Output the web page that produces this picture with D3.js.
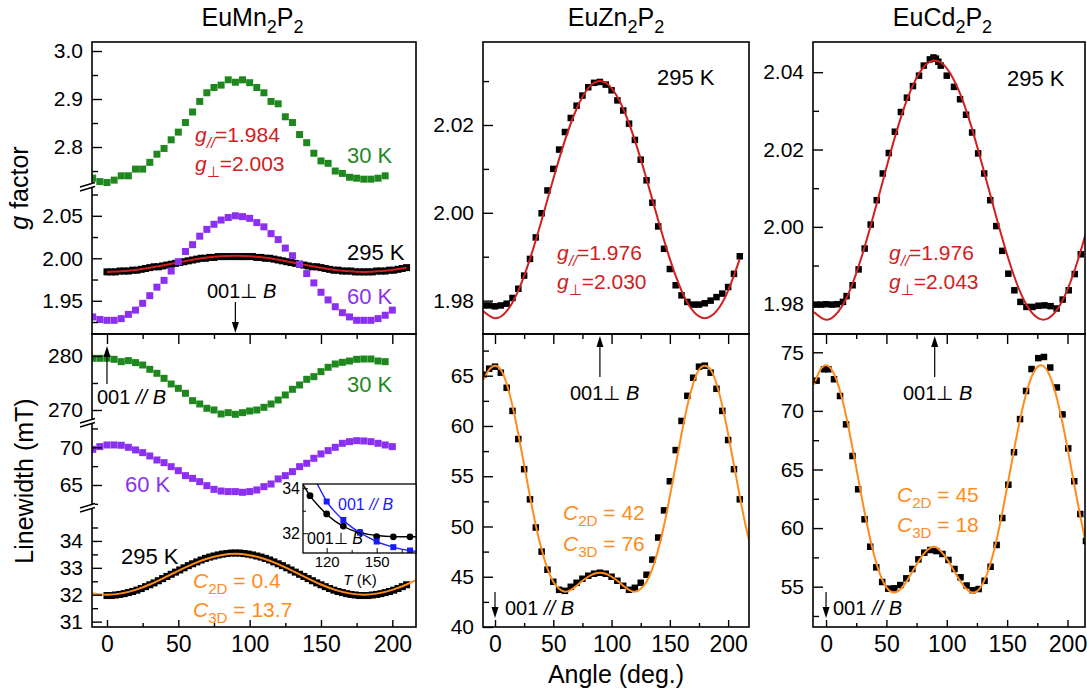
<!DOCTYPE html>
<html>
<head>
<meta charset="utf-8">
<title>EuT2P2 ESR angular dependence</title>
<script src="https://cdnjs.cloudflare.com/ajax/libs/d3/7.8.5/d3.min.js"></script>
<style>
  html, body { margin: 0; padding: 0; background: #fff; }
  svg { display: block; }
</style>
</head>
<body>
<svg id="chart" width="1087" height="696"></svg>
<script>
// ---------- values ----------
const xMajor = [0, 50, 100, 150, 200];
const xMinor = [25, 75, 125, 175];

const ang10to195 = [-10,-5,0,5,10,15,20,25,30,35,40,45,50,55,60,65,70,75,80,85,90,95,100,105,110,115,120,125,130,135,140,145,150,155,160,165,170,175,180,185,190,195];
const ang10to200 = [-10,-5,0,5,10,15,20,25,30,35,40,45,50,55,60,65,70,75,80,85,90,95,100,105,110,115,120,125,130,135,140,145,150,155,160,165,170,175,180,185,190,195,200];
const ang10to210 = [-10,-5,0,5,10,15,20,25,30,35,40,45,50,55,60,65,70,75,80,85,90,95,100,105,110,115,120,125,130,135,140,145,150,155,160,165,170,175,180,185,190,195,200,205,210];
const angBand = [0,3,6,9,12,15,18,21,24,27,30,33,36,39,42,45,48,51,54,57,60,63,66,69,72,75,78,81,84,87,90,93,96,99,102,105,108,111,114,117,120,123,126,129,132,135,138,141,144,147,150,153,156,159,162,165,168,171,174,177,180,183,186,189,192,195,198,201,204,207,210];
const fitAng10 = [-10,0,10,20,30,40,50,60,70,80,90,100,110,120,130,140,150,160,170,180,190,200,210,220];
const fitAng5 = [-10,-5,0,5,10,15,20,25,30,35,40,45,50,55,60,65,70,75,80,85,90,95,100,105,110,115,120,125,130,135,140,145,150,155,160,165,170,175,180,185,190,195,200,205,210,215,220];
const mnGFitAng = [0,10,20,30,40,50,60,70,80,90,100,110,120,130,140,150,160,170,180,190,200,210];

// EuMn2P2 g factor
const mnG30 = [2.735,2.728,2.726,2.731,2.740,2.740,2.754,2.754,2.768,2.785,2.797,2.815,2.831,2.851,2.873,2.895,2.913,2.924,2.929,2.940,2.935,2.940,2.934,2.924,2.913,2.895,2.890,2.863,2.851,2.826,2.809,2.787,2.771,2.766,2.750,2.745,2.737,2.735,2.733,2.733,2.735,2.740];
const mnG60 = [1.931,1.928,1.927,1.927,1.929,1.934,1.939,1.947,1.956,1.966,1.974,1.985,1.996,2.008,2.016,2.026,2.034,2.040,2.045,2.048,2.050,2.049,2.047,2.042,2.037,2.029,2.022,2.012,2.003,1.993,1.982,1.971,1.960,1.951,1.943,1.936,1.931,1.927,1.927,1.927,1.929,1.933,1.939];
const mnG295 = [1.984,1.984,1.984,1.985,1.985,1.985,1.986,1.986,1.987,1.988,1.989,1.990,1.990,1.991,1.992,1.993,1.994,1.995,1.996,1.997,1.998,1.999,2.000,2.000,2.001,2.001,2.002,2.002,2.002,2.002,2.002,
  2.002,2.002,2.002,2.002,2.001,2.001,2.000,2.000,1.999,1.998,1.997,1.996,1.995,1.994,1.993,1.992,1.991,1.990,1.990,1.989,1.988,1.987,1.986,1.986,1.985,1.985,1.985,1.984,1.984,1.984,
  1.984,1.984,1.985,1.985,1.985,1.986,1.986,1.987,1.988,1.989];
const mnGFit = [1.9840,1.9846,1.9862,1.9888,1.9919,1.9951,1.9983,2.0008,2.0024,2.0030,2.0024,2.0008,1.9983,1.9951,1.9919,1.9888,1.9862,1.9846,1.9840,1.9846,1.9862,1.9888];

// EuMn2P2 linewidth (mT)
const mnW30 = [279.57,279.57,279.57,279.38,278.95,279.14,278.77,278.33,277.53,276.79,275.86,274.81,274.01,273.09,271.73,271.11,270.31,270.0,269.26,269.51,269.20,269.51,269.81,270.0,270.49,271.11,271.85,272.78,273.83,274.63,275.68,276.17,277.10,277.90,278.52,278.83,279.07,279.38,279.44,279.44,279.07,278.95];
const mnW60 = [69.73,70.09,70.31,70.31,70.27,70.0,69.65,69.29,68.85,68.32,67.96,67.43,66.90,66.24,65.88,65.44,64.91,64.42,64.20,64.12,64.12,64.03,64.12,64.34,64.78,65.13,65.80,66.24,66.77,67.43,67.88,68.54,69.12,69.56,70.0,70.53,70.75,70.88,70.84,70.75,70.53,70.31,70.09];
const mnW295 = [31.97,31.97,31.99,32.01,32.04,32.08,32.12,32.17,32.23,32.30,32.37,32.44,32.52,32.60,32.68,32.76,32.84,32.92,33.00,33.08,33.15,33.22,33.29,33.35,33.40,33.44,33.48,33.51,33.53,33.55,33.55,
  33.55,33.53,33.51,33.48,33.44,33.40,33.35,33.29,33.22,33.15,33.08,33.00,32.92,32.84,32.76,32.68,32.60,32.52,32.44,32.37,32.30,32.23,32.17,32.12,32.08,32.04,32.01,31.99,31.97,31.97,
  31.97,31.99,32.01,32.04,32.08,32.12,32.17,32.23,32.30,32.37];
const mnWFit = [32.05,32.0,32.05,32.18,32.38,32.63,32.89,33.14,33.34,33.47,33.52,33.47,33.34,33.14,32.89,32.63,32.38,32.18,32.05,32.0,32.05,32.18,32.38,32.63];

// inset: linewidth vs T
const insetT = [110,120,130,140,150,160,170];
const insetPerp = [33.67,32.86,32.32,32.04,31.85,31.84,31.84];
const insetParT = [120,130,140,150,160,170];
const insetPar = [33.41,32.59,32.03,31.63,31.38,31.23];
const insetPerpFitT = [104,110,115,120,125,130,135,140,145,150,160,170,176];
const insetPerpFit = [34.4,33.67,33.22,32.84,32.54,32.31,32.14,32.03,31.95,31.9,31.85,31.84,31.84];
const insetParFitT = [110,112,115,120,125,130,135,140,145,150,155,160,165,170,176];
const insetParFit = [34.8,34.5,34.1,33.42,32.95,32.58,32.27,32.02,31.81,31.63,31.49,31.38,31.29,31.23,31.17];

// EuZn2P2
const znG = [1.9789,1.9789,1.9787,1.9789,1.9793,1.9806,1.9827,1.9857,1.9895,1.9944,1.9999,2.0051,2.0100,2.0144,2.0184,2.0216,2.0244,2.0267,2.0286,2.0296,2.0298,2.0292,2.0279,2.0256,2.0233,2.0203,2.0166,2.0121,2.0074,2.0023,1.9969,1.9918,1.9872,1.9835,1.9812,1.9797,1.9791,1.9791,1.9794,1.9800,1.9808,1.9816,1.9831,1.9861,1.9901];
const znGFit = [1.9776,1.976,1.9776,1.9823,1.9895,1.9983,2.0077,2.0165,2.0237,2.0284,2.030,2.0284,2.0237,2.0165,2.0077,1.9983,1.9895,1.9823,1.9776,1.976,1.9776,1.9823,1.9895];
const znW = [65.1,65.7,65.9,65.3,63.8,61.5,58.7,55.7,52.7,49.9,47.5,45.7,44.5,43.7,43.6,44.0,44.4,44.8,45.1,45.3,45.4,45.3,45.0,44.6,44.1,43.7,43.9,44.4,45.2,46.7,48.9,51.6,54.5,57.6,60.5,63.0,64.8,65.9,66.0,65.3,63.7,61.5,58.6,55.7,52.7];
const znWFit = [64.6,65.6,66.0,65.6,64.2,62.0,59.2,56.1,53.0,50.1,47.7,45.8,44.5,43.8,43.5,43.7,44.1,44.6,45.0,45.3,45.4,45.3,45.0,44.6,44.1,43.7,43.5,43.8,44.5,45.8,47.7,50.1,53.0,56.1,59.2,62.0,64.2,65.6,66.0,65.6,64.2,62.0,59.2,56.1,53.0,50.1,47.7];

// EuCd2P2
const cdGAng = [-8,-4,0,5,9,14,17,22,27,32,37,42,47,52,57,62,67,72,77,81,86,89,91,93,95,100,106,111,116,121,126,131,136,141,146,151,156,161,166,171,176,181,186,191,196,201,206,211];
const cdG = [1.9799,1.9799,1.9800,1.9799,1.9800,1.9806,1.9821,1.9849,1.9890,1.9944,2.0006,2.0069,2.0138,2.0191,2.0246,2.0297,2.0334,2.0364,2.0391,2.0417,2.0433,2.0438,2.0435,2.0427,2.0417,2.0391,2.0362,2.0330,2.0290,2.0244,2.0190,2.0138,2.0069,2.0002,1.9938,1.9879,1.9836,1.9806,1.9793,1.9793,1.9796,1.9797,1.9795,1.9789,1.9812,1.9836,1.9878,1.9929];
const cdGFit = [1.9780,1.976,1.9780,1.9838,1.9928,2.0037,2.0153,2.0263,2.0352,2.0410,2.043,2.0410,2.0352,2.0263,2.0153,2.0037,1.9928,1.9838,1.9780,1.976,1.9780,1.9838,1.9928,2.0037];
const cdWAng = [-7.8,-1.7,1.9,6.6,11.6,16.6,21.9,26.6,31.9,36.6,41.6,46.5,51.5,56.5,61.5,66.5,71.5,76.5,81.4,86.4,91.4,96.4,101.4,106.4,111.4,116.4,121.4,126.4,131.3,136.3,141.3,146,151,155.7,160.7,165.7,170.2,175.8,180.5,185.7,191.2,195.9,200.6,205.6,210.6,215.3];
const cdW = [72.58,73.55,73.55,72.70,71.27,68.85,66.15,63.31,60.75,58.41,56.65,55.40,54.83,54.86,55.14,55.71,56.51,57.33,57.90,58.13,58.04,57.79,57.28,56.51,55.8,55.1,54.7,54.8,55.5,56.7,58.56,60.86,63.7,66.47,69.3,71.7,73.57,74.5,74.6,73.7,72.0,69.7,66.8,64.0,61.2,58.9];
const cdWFit = [72.24,73.47,73.9,73.47,72.24,70.32,67.88,65.16,62.39,59.82,57.62,55.98,54.94,54.52,54.64,55.20,56.01,56.90,57.68,58.21,58.4,58.03,57.39,56.54,55.67,54.94,54.53,54.61,55.28,56.57,58.45,60.81,63.49,66.27,68.91,71.17,72.83,73.75,73.83,73.08,71.55,69.39,66.82,64.04,61.33,58.89,56.90];

// axis ticks
const mnG30Major = [2.8, 2.9, 3.0], mnG30Minor = [2.75, 2.85, 2.95];
const mnGMajor = [1.95, 2.00, 2.05], mnGMinor = [1.925, 1.975, 2.025, 2.075];
const mnW30Major = [270, 280], mnW30Minor = [275];
const mnW60Major = [65, 70], mnW60Minor = [62.5, 67.5, 72.5];
const mnW295Major = [31, 32, 33, 34], mnW295Minor = [31.5, 32.5, 33.5, 34.5];
const gZnMajor = [1.98, 2.00, 2.02], gZnMinor = [1.99, 2.01, 2.03];
const gCdMajor = [1.98, 2.00, 2.02, 2.04], gCdMinor = [1.99, 2.01, 2.03];
const wZnMajor = [40, 45, 50, 55, 60, 65], wZnMinor = [42.5, 47.5, 52.5, 57.5, 62.5, 67.5];
const wCdMajor = [55, 60, 65, 70, 75], wCdMinor = [52.5, 57.5, 62.5, 67.5, 72.5];
const insetTMajor = [120, 150], insetTMinor = [135, 165];
const insetWMajor = [32, 34], insetWMinor = [33];

const compounds = [["EuMn", "2", "P", "2"], ["EuZn", "2", "P", "2"], ["EuCd", "2", "P", "2"]];

// ---------- drawing ----------
const FONT = "'Liberation Sans', Arial, Helvetica, sans-serif";
const GREEN = "#1e881e", PURPLE = "#8b2ff0", RED = "#d02020", ORANGE = "#ff8c1a", BLUE = "#1a1aff";

const svg = d3.select("#chart").attr("font-family", FONT);
svg.append("rect").attr("width", 1087).attr("height", 696).attr("fill", "#fff");
const defs = svg.append("defs");

const yTop = 42, yMid = 334, yBot = 627;
const colX = [[92, 416], [483, 749], [813, 1085]];
const colDom = [[-10.5, 216.6], [-10.3, 217.9], [-10.8, 214.5]];
const xs = colX.map((r, i) => d3.scaleLinear().domain(colDom[i]).range(r));

const y = {
  mnG30: d3.scaleLinear().domain([2.7146, 3.0188]).range([188, yTop]),
  mnG: d3.scaleLinear().domain([1.9109, 2.0827]).range([yMid, 188]),
  mnW30: d3.scaleLinear().domain([267.22, 284.07]).range([425, yMid]),
  mnW60: d3.scaleLinear().domain([61.68, 72.96]).range([510, 425]),
  mnW295: d3.scaleLinear().domain([30.80, 35.15]).range([yBot, 510]),
  znG: d3.scaleLinear().domain([1.9724, 2.0389]).range([yMid, yTop]),
  znW: d3.scaleLinear().domain([40, 69.15]).range([yBot, yMid]),
  cdG: d3.scaleLinear().domain([1.9723, 2.0478]).range([yMid, yTop]),
  cdW: d3.scaleLinear().domain([51.56, 76.56]).range([yBot, yMid])
};

function clipGroup(id, x0, x1, y0, y1) {
  defs.append("clipPath").attr("id", id).append("rect")
    .attr("x", x0).attr("y", y0).attr("width", x1 - x0).attr("height", y1 - y0);
  return svg.append("g").attr("clip-path", `url(#${id})`);
}

function squares(g, sx, sy, a, v, color, size) {
  g.append("g").selectAll("rect").data(d3.zip(a, v)).join("rect")
    .attr("x", d => sx(d[0]) - size / 2)
    .attr("y", d => sy(d[1]) - size / 2)
    .attr("width", size).attr("height", size)
    .attr("fill", color);
}

function fitLine(g, sx, sy, a, v, color, w) {
  g.append("path").datum(d3.zip(a, v))
    .attr("fill", "none").attr("stroke", color).attr("stroke-width", w || 2)
    .attr("d", d3.line().x(d => sx(d[0])).y(d => sy(d[1])).curve(d3.curveNatural));
}

// --- EuMn2P2 top: g factor
const gMnTop = clipGroup("c0t", colX[0][0], colX[0][1], yTop, yMid);
squares(gMnTop, xs[0], y.mnG, angBand, mnG295, "#000", 7);
fitLine(gMnTop, xs[0], y.mnG, mnGFitAng, mnGFit, RED, 2);
squares(gMnTop, xs[0], y.mnG, ang10to200, mnG60, PURPLE, 7);
squares(gMnTop, xs[0], y.mnG30, ang10to195, mnG30, GREEN, 7);

// --- EuMn2P2 bottom: linewidth
const gMnBot = clipGroup("c0b", colX[0][0], colX[0][1], yMid, yBot);
squares(gMnBot, xs[0], y.mnW30, ang10to195, mnW30, GREEN, 7);
squares(gMnBot, xs[0], y.mnW60, ang10to200, mnW60, PURPLE, 7);
squares(gMnBot, xs[0], y.mnW295, angBand, mnW295, "#000", 7);
fitLine(gMnBot, xs[0], y.mnW295, fitAng10, mnWFit, ORANGE, 2);

// --- EuZn2P2
const gZnTop = clipGroup("c1t", colX[1][0], colX[1][1], yTop, yMid);
squares(gZnTop, xs[1], y.znG, ang10to210, znG, "#000", 6.5);
fitLine(gZnTop, xs[1], y.znG, fitAng10.slice(0, 23), znGFit, RED, 2);
const gZnBot = clipGroup("c1b", colX[1][0], colX[1][1], yMid, yBot);
squares(gZnBot, xs[1], y.znW, ang10to210, znW, "#000", 6.5);
fitLine(gZnBot, xs[1], y.znW, fitAng5, znWFit, ORANGE, 2);

// --- EuCd2P2
const gCdTop = clipGroup("c2t", colX[2][0], colX[2][1], yTop, yMid);
squares(gCdTop, xs[2], y.cdG, cdGAng, cdG, "#000", 6.5);
fitLine(gCdTop, xs[2], y.cdG, fitAng10, cdGFit, RED, 2);
const gCdBot = clipGroup("c2b", colX[2][0], colX[2][1], yMid, yBot);
squares(gCdBot, xs[2], y.cdW, cdWAng, cdW, "#000", 6.5);
fitLine(gCdBot, xs[2], y.cdW, fitAng5, cdWFit, ORANGE, 2);

// --- axes
function yAxis(x0, sc, major, minor, fmt, size) {
  const g = svg.append("g").attr("transform", `translate(${x0},0)`);
  g.append("g").call(d3.axisLeft(sc).tickValues(major).tickSize(-10).tickPadding(9).tickFormat(d3.format(fmt)))
    .attr("font-size", size || 21).attr("font-family", FONT)
    .call(a => a.select(".domain").remove());
  g.append("g").call(d3.axisLeft(sc).tickValues(minor).tickSize(-6).tickFormat(""))
    .call(a => a.select(".domain").remove());
  g.selectAll("line").attr("stroke-width", 1.4);
  g.selectAll("text").attr("fill", "#000");
}
yAxis(colX[0][0], y.mnG30, mnG30Major, mnG30Minor, ".1f");
yAxis(colX[0][0], y.mnG, mnGMajor, mnGMinor, ".2f");
yAxis(colX[0][0], y.mnW30, mnW30Major, mnW30Minor, "d");
yAxis(colX[0][0], y.mnW60, mnW60Major, mnW60Minor, "d");
yAxis(colX[0][0], y.mnW295, mnW295Major, mnW295Minor, "d");
yAxis(colX[1][0], y.znG, gZnMajor, gZnMinor, ".2f");
yAxis(colX[1][0], y.znW, wZnMajor, wZnMinor, "d");
yAxis(colX[2][0], y.cdG, gCdMajor, gCdMinor, ".2f");
yAxis(colX[2][0], y.cdW, wCdMajor, wCdMinor, "d");

xs.forEach(sx => {
  const b = svg.append("g").attr("transform", `translate(0,${yBot})`);
  b.append("g").call(d3.axisBottom(sx).tickValues(xMajor).tickSize(-7).tickPadding(9).tickFormat(d3.format("d")))
    .attr("font-size", 23).attr("font-family", FONT)
    .call(a => a.select(".domain").remove());
  b.append("g").call(d3.axisBottom(sx).tickValues(xMinor).tickSize(-4).tickFormat(""))
    .call(a => a.select(".domain").remove());
  const t = svg.append("g").attr("transform", `translate(0,${yMid})`);
  t.append("g").call(d3.axisTop(sx).tickValues(xMajor).tickSize(-10).tickFormat(""))
    .call(a => a.select(".domain").remove());
  t.append("g").call(d3.axisTop(sx).tickValues(xMinor).tickSize(-5).tickFormat(""))
    .call(a => a.select(".domain").remove());
  svg.selectAll(".tick line").attr("stroke-width", 1.4);
});

// --- frames
colX.forEach(([x0, x1]) => {
  [[yTop, yMid], [yMid, yBot]].forEach(([y0, y1]) => {
    svg.append("rect").attr("x", x0).attr("y", y0).attr("width", x1 - x0).attr("height", y1 - y0)
      .attr("fill", "none").attr("stroke", "#000").attr("stroke-width", 1.6);
  });
});

// axis breaks on the EuMn2P2 left axis
function axisBreak(yb) {
  const x0 = colX[0][0];
  svg.append("path")
    .attr("d", `M${x0 - 12},${yb + 1}L${x0 + 3},${yb - 3.5}L${x0 + 3},${yb + 0.5}L${x0 - 12},${yb + 5}Z`)
    .attr("fill", "#fff");
  [[1, -3.5], [5, 0.5]].forEach(([a, b]) => {
    svg.append("line").attr("x1", x0 - 12).attr("y1", yb + a).attr("x2", x0 + 3).attr("y2", yb + b)
      .attr("stroke", "#000").attr("stroke-width", 1.4);
  });
}
axisBreak(186);
axisBreak(422);
axisBreak(507);

// --- text helpers
function rich(x, yy, parts, size, color, anchor) {
  const t = svg.append("text").attr("x", x).attr("y", yy)
    .attr("font-size", size).attr("fill", color)
    .attr("text-anchor", anchor || "start").style("white-space", "pre");
  let cur = 0;
  parts.forEach(p => {
    const [str, st] = typeof p === "string" ? [p, ""] : p;
    const s = t.append("tspan").text(str);
    const off = st.includes("s") ? size * 0.28 : 0;
    if (off !== cur) { s.attr("dy", off - cur); cur = off; }
    if (st.includes("s")) s.attr("font-size", size * 0.72);
    if (st.includes("i")) s.attr("font-style", "italic");
  });
  return t;
}

function arrow(x, yFrom, yTo) {
  const dir = yTo > yFrom ? 1 : -1;
  svg.append("line").attr("x1", x).attr("x2", x).attr("y1", yFrom).attr("y2", yTo - dir * 6)
    .attr("stroke", "#000").attr("stroke-width", 1.2);
  svg.append("path").attr("d", `M${x - 3.5},${yTo - dir * 11}L${x + 3.5},${yTo - dir * 11}L${x},${yTo}Z`)
    .attr("fill", "#000");
}

// titles
[252.5, 616, 942.5].forEach((cx, i) => {
  const c = compounds[i];
  rich(cx, 26, [c[0], [c[1], "s"], c[2], [c[3], "s"]], 25, "#000", "middle");
});

// axis titles
rich(0, 0, [["g", "i"], " factor"], 25, "#000", "middle").attr("transform", "translate(28,188) rotate(-90)");
rich(0, 0, ["Linewidth (mT)"], 25, "#000", "middle").attr("transform", "translate(33,481) rotate(-90)");
rich(616, 683, ["Angle (deg.)"], 25, "#000", "middle");

const perpB = ["001\u22A5 ", ["B", "i"]];
const parB = ["001 ", ["//", "i"], " ", ["B", "i"]];

// EuMn2P2 annotations
rich(195, 142, [["g", "i"], ["//", "is"], "=1.984"], 21, RED);
rich(195, 171, [["g", "i"], ["\u22A5", "s"], "=2.003"], 21, RED);
rich(347, 163, ["30 K"], 22, GREEN);
rich(347, 260, ["295 K"], 22, "#000");
rich(347, 304, ["60 K"], 22, PURPLE);
rich(207, 298, perpB, 20, "#000");
arrow(xs[0](90), 302, 333);
arrow(xs[0](0), 384, 346);
rich(97, 404, parB, 20, "#000");
rich(347, 392, ["30 K"], 22, GREEN);
rich(125, 492, ["60 K"], 22, PURPLE);
rich(121, 564, ["295 K"], 22, "#000");
rich(193, 588, [["C", "i"], ["2D", "s"], " = 0.4"], 21, ORANGE);
rich(193, 617, [["C", "i"], ["3D", "s"], " = 13.7"], 21, ORANGE);

// EuZn2P2 annotations
rich(657, 85, ["295 K"], 22, "#000");
rich(557, 260, [["g", "i"], ["//", "is"], "=1.976"], 21, RED);
rich(557, 289, [["g", "i"], ["\u22A5", "s"], "=2.030"], 21, RED);
arrow(xs[1](90), 377, 336);
rich(570, 400, perpB, 20, "#000");
rich(563, 520, [["C", "i"], ["2D", "s"], " = 42"], 21, ORANGE);
rich(563, 551, [["C", "i"], ["3D", "s"], " = 76"], 21, ORANGE);
arrow(xs[1](0), 592, 618);
rich(505, 615, parB, 20, "#000");

// EuCd2P2 annotations
rich(1007, 86, ["295 K"], 22, "#000");
rich(889, 260, [["g", "i"], ["//", "is"], "=1.976"], 21, RED);
rich(889, 289, [["g", "i"], ["\u22A5", "s"], "=2.043"], 21, RED);
arrow(xs[2](90), 377, 336);
rich(903, 400, perpB, 20, "#000");
rich(897, 502, [["C", "i"], ["2D", "s"], " = 45"], 21, ORANGE);
rich(897, 532, [["C", "i"], ["3D", "s"], " = 18"], 21, ORANGE);
arrow(xs[2](0), 592, 618);
rich(833, 615, parB, 20, "#000");

// --- inset (linewidth vs temperature)
const inX = d3.scaleLinear().domain([105.8, 173.6]).range([303, 416]);
const inY = d3.scaleLinear().domain([31.12, 34.19]).range([553, 484]);
svg.append("rect").attr("x", 303).attr("y", 484).attr("width", 113).attr("height", 69).attr("fill", "#fff");
const gIn = clipGroup("cin", 303, 416, 484, 553);
gIn.append("path").datum(d3.zip(insetPerpFitT, insetPerpFit))
  .attr("fill", "none").attr("stroke", "#000").attr("stroke-width", 1.4)
  .attr("d", d3.line().x(d => inX(d[0])).y(d => inY(d[1])).curve(d3.curveNatural));
gIn.append("path").datum(d3.zip(insetParFitT, insetParFit))
  .attr("fill", "none").attr("stroke", BLUE).attr("stroke-width", 1.4)
  .attr("d", d3.line().x(d => inX(d[0])).y(d => inY(d[1])).curve(d3.curveNatural));
gIn.selectAll("circle").data(d3.zip(insetT, insetPerp)).join("circle")
  .attr("cx", d => inX(d[0])).attr("cy", d => inY(d[1])).attr("r", 3.4).attr("fill", "#000");
squares(gIn, inX, inY, insetParT, insetPar, BLUE, 6);

const inAxL = svg.append("g").attr("transform", "translate(303,0)");
inAxL.append("g").call(d3.axisLeft(inY).tickValues(insetWMajor).tickSize(-5).tickPadding(3).tickFormat(d3.format("d")))
  .attr("font-size", 16).attr("font-family", FONT).call(a => a.select(".domain").remove());
inAxL.append("g").call(d3.axisLeft(inY).tickValues(insetWMinor).tickSize(-3).tickFormat(""))
  .call(a => a.select(".domain").remove());
const inAxB = svg.append("g").attr("transform", "translate(0,553)");
inAxB.append("g").call(d3.axisBottom(inX).tickValues(insetTMajor).tickSize(-5).tickPadding(3).tickFormat(d3.format("d")))
  .attr("font-size", 15).attr("font-family", FONT).call(a => a.select(".domain").remove());
inAxB.append("g").call(d3.axisBottom(inX).tickValues(insetTMinor).tickSize(-3).tickFormat(""))
  .call(a => a.select(".domain").remove());
svg.append("rect").attr("x", 303).attr("y", 484).attr("width", 113).attr("height", 69)
  .attr("fill", "none").attr("stroke", "#000").attr("stroke-width", 1.3);
rich(338, 510, parB, 16, BLUE);
rich(307, 544, perpB, 16, "#000");
rich(360, 585, [["T", "i"], " (K)"], 15, "#000", "middle");
</script>
</body>
</html>
